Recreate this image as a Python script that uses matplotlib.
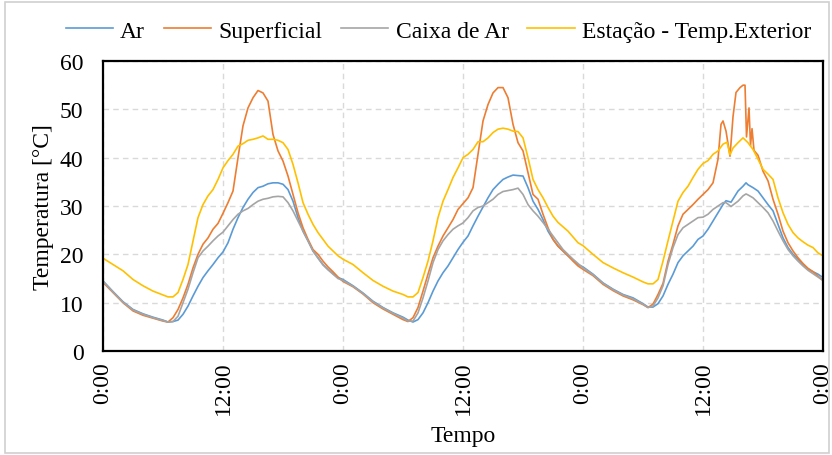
import matplotlib
matplotlib.use("Agg")
import matplotlib.pyplot as plt
from matplotlib.ticker import FuncFormatter, MultipleLocator
from matplotlib.patches import Rectangle

plt.rcParams['font.family'] = ['Liberation Serif', 'DejaVu Serif']

# ---- data (hours since start, temperature in °C) ----
t_ar = [0, 1, 2, 3, 4, 5, 6, 6.5, 7, 7.5, 8, 8.5, 9, 9.5, 10, 10.5, 11, 11.5, 12, 12.5, 13, 13.5, 14, 14.5,
        15, 15.5, 16, 16.5, 17, 17.5, 18, 18.5, 19, 19.5, 20, 20.5, 21, 21.5, 22, 22.5, 23, 23.5, 24,
        25, 26, 27, 28, 29, 30, 30.5, 31, 31.5, 32, 32.5, 33, 33.5, 34, 34.5, 35, 35.5, 36, 36.5, 37, 37.5,
        38, 38.5, 39, 39.5, 40, 40.5, 41, 41.5, 42, 42.5, 43, 43.5, 44, 44.5, 45, 45.5, 46, 46.5, 47, 47.5, 48,
        49, 50, 51, 52, 53, 54, 54.5, 55, 55.5, 56, 56.5, 57, 57.5, 58, 58.5, 59, 59.5, 60, 60.5, 61, 61.5,
        62, 62.3, 62.8, 63.5, 64, 64.3, 64.5, 65, 65.5, 66, 66.5, 67, 67.5, 68, 68.5, 69, 69.5, 70, 70.5,
        71, 71.5, 72]
ar = [14.5, 12.3, 10.2, 8.6, 7.7, 7.0, 6.4, 6.0, 6.1, 6.4, 7.6, 9.3, 11.4, 13.4, 15.2, 16.6, 17.9, 19.3, 20.5, 22.4,
      25.2, 27.6, 29.7, 31.4, 32.8, 33.8, 34.1, 34.6, 34.8, 34.8, 34.5, 33.4, 31.0, 27.6, 24.8, 22.8, 20.7, 19.3,
      17.9, 16.9, 16.0, 15.2, 14.8,
      13.5, 12.0, 10.3, 9.0, 7.9, 7.0, 6.4, 6.0, 6.5, 7.9, 10.0, 12.4, 14.5, 16.2, 17.6, 19.3, 21.0, 22.5, 23.8,
      25.9, 27.9, 29.8, 31.7, 33.4, 34.5, 35.5, 36.0, 36.4, 36.3, 36.2, 33.8, 31.0, 29.3, 27.2, 24.8, 23.1, 21.7,
      20.7, 19.7, 18.8, 17.9, 17.4,
      15.9, 14.1, 12.8, 11.7, 11.0, 9.8, 9.1, 9.1, 9.8, 11.4, 13.8, 15.9, 18.3, 19.7, 20.7, 21.7, 23.1, 23.8, 25.2,
      26.9, 28.6, 30.3, 31.1, 30.8, 33.1, 34.1, 34.8, 34.4, 33.8, 33.1, 31.7, 30.3, 29.0, 26.2, 23.4, 21.4, 20.0,
      19.0, 17.9, 17.0, 16.4, 15.9, 15.2]

t_sup = [0, 1, 2, 3, 4, 5, 6, 6.5, 7, 7.5, 8, 8.5, 9, 9.5, 10, 10.5, 11, 11.5, 12, 12.5, 13, 13.5, 14, 14.5,
         15, 15.5, 16, 16.5, 17, 17.5, 18, 18.5, 19, 19.5, 20, 20.5, 21, 21.5, 22, 22.5, 23, 23.5, 24,
         25, 26, 27, 28, 29, 30, 30.5, 31, 31.5, 32, 32.5, 33, 33.5, 34, 34.5, 35, 35.5, 36, 36.5, 37, 37.5,
         38, 38.5, 39, 39.5, 40, 40.5, 41, 41.5, 42, 42.5, 43, 43.5, 44, 44.5, 45, 45.5, 46, 46.5, 47, 47.5, 48,
         49, 50, 51, 52, 53, 54, 54.5, 55, 55.5, 56, 56.5, 57, 57.5, 58, 58.5, 59, 59.5, 60, 60.5, 61, 61.5,
         61.8, 62, 62.3, 62.7, 63, 63.3, 63.7, 64, 64.2, 64.35, 64.6, 64.75, 64.9, 65.1, 65.5, 66, 66.5, 67,
         67.5, 68, 68.5, 69, 69.5, 70, 70.5, 71, 71.5, 72]
sup = [14.2, 12.1, 10.0, 8.3, 7.4, 6.8, 6.2, 6.0, 6.9, 8.6, 11.0, 13.8, 17.2, 20.0, 22.1, 23.4, 25.2, 26.4, 28.5,
       30.7, 33.1, 40.0, 46.6, 50.3, 52.4, 53.9, 53.4, 51.7, 44.8, 41.4, 39.3, 36.2, 32.4, 28.6, 25.5, 23.1, 21.0,
       20.0, 18.6, 17.4, 16.4, 15.3, 14.4,
       13.3, 11.8, 10.0, 8.7, 7.6, 6.5, 6.1, 6.9, 9.0, 12.4, 15.9, 19.3, 21.7, 23.8, 25.5, 27.2, 29.3, 30.5, 31.7,
       33.8, 40.7, 47.6, 51.0, 53.4, 54.5, 54.5, 52.4, 46.9, 43.1, 41.4, 36.9, 32.4, 31.4, 28.3, 25.5, 23.1, 21.7,
       20.7, 19.7, 18.6, 17.6, 16.9,
       15.6, 13.8, 12.5, 11.4, 10.6, 9.6, 9.0, 9.7, 11.7, 14.0, 18.6, 22.1, 25.9, 28.3, 29.3, 30.3, 31.4, 32.4,
       33.4, 34.8, 39.7, 46.9, 47.6, 45.5, 40.3, 48.5, 53.5, 54.5, 55.0, 55.0, 44.3, 50.3, 42.5, 46.0, 41.5, 40.5,
       37.2, 35.2, 31.4, 28.3, 24.8, 22.4, 20.7, 19.3, 18.1, 17.1, 16.4, 15.5, 14.6]

t_caixa = t_ar
caixa = [14.4, 12.2, 10.1, 8.5, 7.6, 6.9, 6.3, 6.0, 6.1, 7.2, 10.0, 12.8, 16.2, 19.3, 20.7, 21.7, 22.8, 23.8, 24.6,
         25.9, 27.2, 28.3, 29.0, 29.5, 30.3, 31.0, 31.4, 31.6, 31.9, 32.0, 31.9, 30.7, 29.0, 26.9, 24.8, 22.8, 20.7,
         19.2, 17.8, 16.8, 15.9, 15.0, 14.6,
         13.4, 11.9, 10.2, 8.9, 7.8, 6.8, 6.2, 6.2, 7.9, 11.0, 14.5, 18.3, 21.0, 22.8, 24.1, 25.2, 25.9, 26.5, 27.6,
         29.0, 29.7, 30.0, 30.7, 31.4, 32.4, 33.0, 33.2, 33.4, 33.7, 32.4, 30.3, 29.0, 27.9, 26.6, 25.2, 23.8, 22.4,
         21.0, 20.0, 19.0, 18.1, 17.2,
         15.8, 14.0, 12.7, 11.6, 10.8, 9.7, 9.0, 9.3, 11.0, 13.5, 17.9, 21.4, 24.1, 25.5, 26.2, 26.9, 27.6, 27.7,
         28.3, 29.3, 30.0, 30.7, 30.7, 29.9, 31.0, 32.1, 32.5, 32.3, 31.7, 30.7, 29.7, 28.6, 26.9, 24.8, 22.8, 21.0,
         19.7, 18.6, 17.6, 16.7, 16.0, 15.3, 14.6]

t_ext = [0, 1, 2, 3, 4, 5, 6, 6.5, 7, 7.5, 8, 8.5, 9, 9.5, 10, 10.5, 11, 11.5, 12, 12.5, 13, 13.5, 14, 14.5,
         15, 15.5, 16, 16.5, 17, 17.5, 18, 18.5, 19, 19.5, 20, 20.5, 21, 21.5, 22, 22.5, 23, 23.5, 24,
         25, 26, 27, 28, 29, 30, 30.5, 31, 31.5, 32, 32.5, 33, 33.5, 34, 34.5, 35, 35.5, 36, 36.5, 37, 37.5,
         38, 38.5, 39, 39.5, 40, 40.5, 41, 41.5, 42, 42.5, 43, 43.5, 44, 44.5, 45, 45.5, 46, 46.5, 47, 47.5, 48,
         49, 50, 51, 52, 53, 54, 54.5, 55, 55.5, 56, 56.5, 57, 57.5, 58, 58.5, 59, 59.5, 60, 60.5, 61, 61.5,
         62, 62.4, 62.7, 63, 63.5, 64, 64.5, 65, 65.5, 66, 66.5, 67, 67.5, 68, 68.5, 69, 69.5, 70, 70.5,
         71, 71.5, 72]
ext = [19.2, 17.9, 16.6, 14.8, 13.5, 12.4, 11.6, 11.2, 11.2, 12.1, 14.8, 17.9, 22.8, 27.6, 30.3, 32.1, 33.4, 35.5,
       37.9, 39.4, 40.7, 42.4, 42.9, 43.6, 43.8, 44.1, 44.5, 43.8, 43.8, 43.6, 43.1, 41.7, 38.6, 34.8, 30.7, 28.3,
       26.2, 24.5, 23.1, 21.7, 20.7, 19.7, 19.0,
       17.9, 16.2, 14.6, 13.4, 12.4, 11.7, 11.2, 11.2, 12.1, 15.2, 18.6, 22.8, 27.6, 31.0, 33.4, 35.9, 37.9, 40.0,
       40.7, 41.7, 43.3, 43.3, 44.1, 45.2, 45.9, 46.1, 45.9, 45.5, 45.4, 44.1, 40.0, 35.5, 33.4, 31.7, 29.7, 27.9,
       26.6, 25.7, 24.8, 23.6, 22.4, 21.8,
       20.0, 18.3, 17.2, 16.2, 15.3, 14.3, 13.9, 13.9, 14.8, 18.6, 22.8, 26.9, 31.0, 32.8, 34.1, 35.9, 37.6, 38.8,
       39.4, 40.7, 41.4, 42.8, 43.2, 40.6, 42.0, 43.1, 44.1, 43.1, 41.7, 39.7, 37.6, 36.6, 35.5, 31.7, 28.6, 26.2,
       24.5, 23.4, 22.6, 21.9, 21.4, 20.3, 19.7]

labels = ['Ar', 'Superficial', 'Caixa de Ar', 'Estação - Temp.Exterior']
colors = ['#5B9BD5', '#ED7D31', '#A5A5A5', '#FFC000']

FS = 17

fig = plt.figure(figsize=(8.32, 4.56), dpi=100)
fig.patches.append(Rectangle((0.006, 0.004), 0.99, 0.99, transform=fig.transFigure,
                             fill=False, edgecolor='#D0D0D0', linewidth=1.2))
ax = fig.add_axes([0.1238, 0.228, 0.8654, 0.636])

series = [(t_ar, ar), (t_sup, sup), (t_caixa, caixa), (t_ext, ext)]
for (t, v), lab, c in zip(series, labels, colors):
    ax.plot(t, v, color=c, lw=1.2, label=lab)

ax.set_xlim(0, 72)
ax.set_ylim(0, 60)
ax.xaxis.set_major_locator(MultipleLocator(12))
ax.yaxis.set_major_locator(MultipleLocator(10))
ax.xaxis.set_major_formatter(FuncFormatter(lambda x, p: f"{int(round(x)) % 24}:00"))
ax.grid(True, color='#D9D9D9', linestyle=(0, (4, 3)), linewidth=1.0)
ax.set_axisbelow(True)
for s in ax.spines.values():
    s.set_linewidth(1.6)
    s.set_color('black')
ax.tick_params(axis='both', length=0, labelsize=FS, colors='black')
ax.tick_params(axis='x', pad=7, labelrotation=90)
ax.tick_params(axis='y', pad=14)
ax.set_xlabel('Tempo', fontsize=FS, labelpad=8)
ax.set_ylabel('Temperatura [°C]', fontsize=FS, labelpad=4)

leg = fig.legend(loc='center', bbox_to_anchor=(0.527, 0.93), ncol=4, frameon=False,
                 fontsize=FS, handlelength=2.0, handletextpad=0.3, columnspacing=0.8)

fig.savefig('out.png', dpi=100)
